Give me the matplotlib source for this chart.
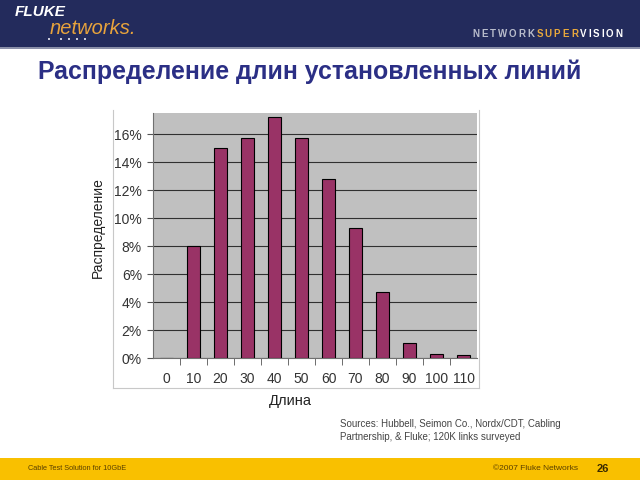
import matplotlib.pyplot as plt
from matplotlib.patches import Rectangle
from matplotlib.lines import Line2D
from matplotlib.ticker import FuncFormatter

# chart data
lengths = ['0', '10', '20', '30', '40', '50', '60', '70', '80', '90', '100', '110']
share = [0.0, 8.0, 15.0, 15.7, 17.2, 15.7, 12.8, 9.3, 4.7, 1.05, 0.3, 0.2]
y_ticks = [0, 2, 4, 6, 8, 10, 12, 14, 16]

title = 'Распределение длин установленных линий'
source = ['Sources: Hubbell, Seimon Co., Nordx/CDT, Cabling',
          'Partnership, & Fluke; 120K links surveyed']

plt.rcParams['font.family'] = ['Liberation Sans', 'DejaVu Sans']

W, H = 640, 480
fig = plt.figure(figsize=(6.4, 4.8), dpi=100)
renderer = fig.canvas.get_renderer()

def fx(px):
    return px / W

def fy(py):
    return 1 - py / H

# header bar
fig.patches.append(Rectangle((0, fy(47)), 1, 47 / H, transform=fig.transFigure,
                             facecolor='#232B5C', edgecolor='none', zorder=0))
fig.patches.append(Rectangle((0, fy(49)), 1, 2 / H, transform=fig.transFigure,
                             facecolor='#8A8FA8', edgecolor='none', zorder=0))
# footer bar
fig.patches.append(Rectangle((0, 0), 1, 22 / H, transform=fig.transFigure,
                             facecolor='#F9C000', edgecolor='none', zorder=0))

# logo
fig.text(fx(15), fy(12), 'FLUKE', color='white', fontsize=11, fontweight='bold',
         style='italic', va='center', ha='left')
fig.text(fx(50), fy(29), 'networks.', color='#E8A33C', fontsize=14.5,
         style='italic', va='center', ha='left')
for dx in [48, 60, 68, 76, 84]:
    fig.patches.append(Rectangle((fx(dx), fy(40)), 2 / W, 2 / H, transform=fig.transFigure,
                                 facecolor='#C8C8D8', edgecolor='none'))

# NETWORKSUPERVISION, letter-spaced
x0 = 472
parts = [('NETWORK', '#B8BCCB'), ('SUPER', '#E8A83C'), ('VISION', 'white')]
for txt, col in parts:
    for ch in txt:
        t = fig.text(fx(x0), fy(34), ch, color=col, fontsize=7, fontweight='bold',
                     va='center', ha='left')
        x0 += t.get_window_extent(renderer).width + 2.0

# title
fig.text(fx(38), fy(72), title, color='#2B2F85', fontsize=17.9, fontweight='bold',
         va='center', ha='left')

# chart frame lines
frame_col = '#C8C8C8'
fig.lines.append(Line2D([fx(113), fx(113)], [fy(110), fy(388)], transform=fig.transFigure, color=frame_col, lw=0.8))
fig.lines.append(Line2D([fx(113), fx(479)], [fy(388), fy(388)], transform=fig.transFigure, color=frame_col, lw=0.8))
fig.lines.append(Line2D([fx(479), fx(479)], [fy(110), fy(388)], transform=fig.transFigure, color=frame_col, lw=0.8))

ax = fig.add_axes([fx(153), fy(358), fx(477 - 153), (358 - 113) / H])
ax.set_facecolor('#C0C0C0')
pos = list(range(len(lengths)))
ax.bar(pos, share, width=0.45, color='#993366', edgecolor='black', linewidth=0.8, zorder=3)
ax.set_xlim(-0.5, len(lengths) - 0.5)
ax.set_ylim(0, 17.5)
ax.set_yticks(y_ticks)
ax.yaxis.set_major_formatter(FuncFormatter(lambda v, p: '%d%%' % v))
ax.grid(axis='y', color='#303030', linewidth=0.8, zorder=1)
ax.set_xticks(pos)
ax.set_xticklabels(lengths)
ax.set_xticks([p + 0.5 for p in pos[:-1]], minor=True)
ax.tick_params(axis='x', which='major', length=0, pad=10, labelsize=10, labelcolor='#333333')
ax.tick_params(axis='x', which='minor', length=5, color='#555555', direction='out')
ax.tick_params(axis='y', length=4, color='#555555', labelsize=10, labelcolor='#333333', pad=4)
for s in ['top', 'right']:
    ax.spines[s].set_visible(False)
ax.spines['left'].set_color('#707070')
ax.spines['bottom'].set_color('#707070')

fig.text(fx(290), fy(401), 'Длина', fontsize=10.5, color='#222222', ha='center', va='center')
fig.text(fx(98), fy(228), 'Распределение', fontsize=10, color='#222222', ha='center',
         va='center', rotation=90)

# source note
fig.text(fx(340), fy(424), source[0], fontsize=7, color='#444444', ha='left', va='center')
fig.text(fx(340), fy(437), source[1], fontsize=7, color='#444444', ha='left', va='center')

# footer texts
fig.text(fx(28), fy(468), 'Cable Test Solution for 10GbE', fontsize=5.3, color='#5A4000',
         ha='left', va='center')
fig.text(fx(493), fy(469), '©2007 Fluke Networks', fontsize=6, color='#5A4000',
         ha='left', va='center')
fig.text(fx(597), fy(469), '26', fontsize=8, fontweight='bold', color='#3A2A00',
         ha='left', va='center')

fig.savefig('out.png', dpi=100)
